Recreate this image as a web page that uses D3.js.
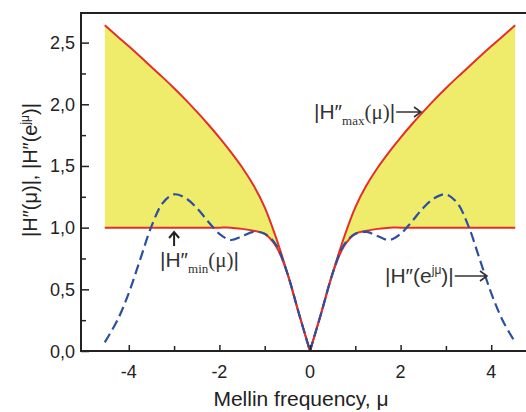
<!DOCTYPE html>
<html><head><meta charset="utf-8">
<script src="https://cdn.jsdelivr.net/npm/d3@7"></script>
<style>
html,body{margin:0;padding:0;background:#fff;}
svg{display:block;}
</style></head>
<body>
<svg id="chart" width="526" height="412"></svg>
<script>
// ---- data ----
const mu = [-4.53,-4.25,-4,-3.75,-3.5,-3.25,-3,-2.75,-2.5,-2.25,-2,-1.75,-1.5,-1.25,-1,-0.75,-0.5,-0.25,0,
            0.25,0.5,0.75,1,1.25,1.5,1.75,2,2.25,2.5,2.75,3,3.25,3.5,3.75,4,4.25,4.53];
const hMax = [2.64,2.55,2.47,2.388,2.303,2.218,2.13,2.038,1.94,1.838,1.73,1.615,1.49,1.345,1.165,0.92,0.63,0.31,0,
              0.31,0.63,0.92,1.165,1.345,1.49,1.615,1.73,1.838,1.94,2.038,2.13,2.218,2.303,2.388,2.47,2.55,2.64];
const hMin = [1,1,1,1,1,1,1,1,1,1,1,1,0.99,0.975,0.95,0.85,0.63,0.31,0,
              0.31,0.63,0.85,0.95,0.975,0.99,1,1,1,1,1,1,1,1,1,1,1,1];
const hE = [0.07,0.25,0.47,0.74,1.01,1.20,1.27,1.24,1.16,1.05,0.95,0.90,0.93,0.965,0.95,0.86,0.63,0.31,0,
            0.31,0.63,0.86,0.95,0.965,0.93,0.90,0.95,1.05,1.16,1.24,1.27,1.20,1.01,0.74,0.47,0.25,0.07];
const xTicksMajor = [-4,-2,0,2,4];
const xTicksMinor = [-3,-1,1,3];
const yTicksMajor = [0,0.5,1.0,1.5,2.0,2.5];
const yTicksMinor = [0.25,0.75,1.25,1.75,2.25];

const rows = mu.map((m,i)=>({mu:m, max:hMax[i], min:hMin[i], e:hE[i]}));
const leftHalf = rows.filter(d=>d.mu<=0);
const rightHalf = rows.filter(d=>d.mu>=0);

const svg = d3.select("#chart");
const L=81, R=539, T=13, B=351;
const x = d3.scaleLinear().domain([-5.055,5.055]).range([L,R]);
const y = d3.scaleLinear().domain([0,2.74]).range([B,T]);

const YELLOW="#efec6c", RED="#e42f28", BLUE="#2d4f9f";
const SANS="Liberation Sans, Arial, Helvetica, sans-serif";
const SERIF="Liberation Serif, Times New Roman, serif";
const curve = d3.curveCatmullRom.alpha(0.5);

const area = d3.area().x(d=>x(d.mu)).y0(d=>y(d.min)).y1(d=>y(d.max)).curve(curve);
const lineMax = d3.line().x(d=>x(d.mu)).y(d=>y(d.max)).curve(curve);
const lineMin = d3.line().x(d=>x(d.mu)).y(d=>y(d.min)).curve(curve);
const lineE = d3.line().x(d=>x(d.mu)).y(d=>y(d.e)).curve(curve);

[leftHalf,rightHalf].forEach(h=>{
  svg.append("path").attr("d",area(h)).attr("fill",YELLOW).attr("stroke","none");
});
[leftHalf,rightHalf].forEach(h=>{
  svg.append("path").attr("d",lineMax(h)).attr("fill","none").attr("stroke",RED).attr("stroke-width",2);
  svg.append("path").attr("d",lineMin(h)).attr("fill","none").attr("stroke",RED).attr("stroke-width",2);
});
[leftHalf,rightHalf].forEach(h=>{
  svg.append("path").attr("d",lineE(h)).attr("fill","none")
    .attr("stroke",BLUE).attr("stroke-width",2.2).attr("stroke-dasharray","10,5");
});

// frame
svg.append("rect").attr("x",L).attr("y",T).attr("width",R-L).attr("height",B-T)
  .attr("fill","none").attr("stroke","#222").attr("stroke-width",2);

// axes (ticks inward)
const gx = svg.append("g").attr("transform",`translate(0,${B})`)
  .call(d3.axisTop(x).tickValues(xTicksMajor).tickSize(6).tickFormat(""));
gx.select(".domain").remove();
const gxm = svg.append("g").attr("transform",`translate(0,${B})`)
  .call(d3.axisTop(x).tickValues(xTicksMinor).tickSize(5).tickFormat(""));
gxm.select(".domain").remove();
const gy = svg.append("g").attr("transform",`translate(${L},0)`)
  .call(d3.axisRight(y).tickValues(yTicksMajor).tickSize(8).tickFormat(""));
gy.select(".domain").remove();
const gym = svg.append("g").attr("transform",`translate(${L},0)`)
  .call(d3.axisRight(y).tickValues(yTicksMinor).tickSize(5).tickFormat(""));
gym.select(".domain").remove();
svg.selectAll(".tick line").attr("stroke","#222").attr("stroke-width",1.5);

// tick labels
svg.append("g").selectAll("text").data(xTicksMajor).join("text")
  .attr("x",d=>x(d)).attr("y",378).attr("text-anchor","middle")
  .attr("font-family",SANS).attr("font-size",18).attr("fill","#222")
  .text(d=>String(d));
svg.append("g").selectAll("text").data(yTicksMajor).join("text")
  .attr("x",75).attr("y",d=>y(d)+6.5).attr("text-anchor","end")
  .attr("font-family",SANS).attr("font-size",18).attr("fill","#222")
  .text(d=>d3.format(".1f")(d).replace(".",","));

// axis titles
svg.append("text").attr("x",301).attr("y",406).attr("text-anchor","middle")
  .attr("font-family",SANS).attr("font-size",21).attr("fill","#222")
  .text("Mellin frequency, μ");
const yl = svg.append("text").attr("transform","translate(37,170) rotate(-90)")
  .attr("text-anchor","middle").attr("font-family",SANS).attr("font-size",20).attr("fill","#222");
yl.append("tspan").text("|H″(μ)|, |H″(e");
yl.append("tspan").attr("dy",-8).attr("font-size",12).text("jμ");
yl.append("tspan").attr("dy",8).text(")|");

function hArrow(x0,x1,yc){
  svg.append("path").attr("d",`M${x0},${yc}H${x1}M${x1-7},${yc-5}L${x1},${yc}L${x1-7},${yc+5}`)
    .attr("fill","none").attr("stroke","#333").attr("stroke-width",1.6);
}

// annotations
const aMax = svg.append("text").attr("x",314).attr("y",119).attr("font-family",SANS).attr("font-size",21).attr("fill","#333");
aMax.append("tspan").text("|H″");
aMax.append("tspan").attr("dy",6).attr("font-family",SERIF).attr("font-size",13).text("max");
aMax.append("tspan").attr("dy",-6).attr("font-family",SERIF).text("(μ)");
aMax.append("tspan").text("|");
const wMax = aMax.node().getComputedTextLength();
hArrow(314+wMax+1, 421, 112);

const aMin = svg.append("text").attr("x",160).attr("y",267).attr("font-family",SANS).attr("font-size",21).attr("fill","#333");
aMin.append("tspan").text("|H″");
aMin.append("tspan").attr("dy",6).attr("font-family",SERIF).attr("font-size",13).text("min");
aMin.append("tspan").attr("dy",-6).attr("font-family",SERIF).text("(μ)");
aMin.append("tspan").text("|");
const ax = x(-3);
svg.append("path").attr("d",`M${ax},246V232M${ax-5},238L${ax},232L${ax+5},238`)
  .attr("fill","none").attr("stroke","#222").attr("stroke-width",2);

const aE = svg.append("text").attr("x",385).attr("y",283).attr("font-family",SANS).attr("font-size",21).attr("fill","#333");
aE.append("tspan").text("|H″(e");
aE.append("tspan").attr("dy",-9).attr("font-size",12).text("jμ");
aE.append("tspan").attr("dy",9).text(")|");
const wE = aE.node().getComputedTextLength();
hArrow(385+wE+1, 487, 276);
</script>
</body></html>
